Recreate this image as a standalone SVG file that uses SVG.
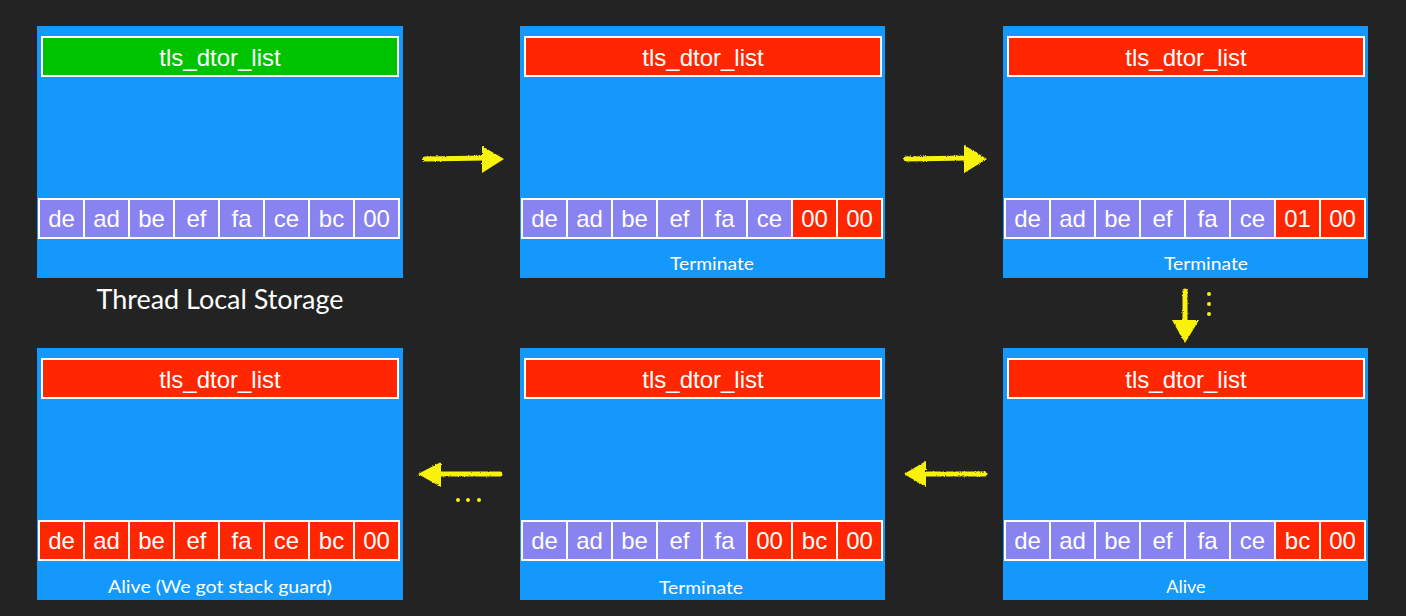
<svg xmlns="http://www.w3.org/2000/svg" width="1406" height="616" viewBox="0 0 1406 616">
<defs>
<style>
.panel{fill:#1598FC}
.title{stroke:#fff;stroke-width:2}
.green{fill:#00C300}
.red{fill:#FF2600}
.pur{fill:#8883F0}
.cell{stroke:#fff;stroke-width:2}
.ct{font-family:"Liberation Sans",Arial,sans-serif;font-size:24px;fill:#fff;text-anchor:middle}
.lbl{font-family:Lato,"Noto Sans",sans-serif;font-size:18px;fill:#fff;text-anchor:middle}
.cap{font-family:Lato,"Noto Sans",sans-serif;font-size:26px;fill:#fff;text-anchor:middle}
.arr{stroke:#F8F20A;stroke-width:5;fill:none;stroke-linecap:round}
.ah{fill:#F8F20A}
.dot{fill:#F8F20A}
</style>
<filter id="chalk" x="-10%" y="-30%" width="120%" height="160%">
<feTurbulence type="fractalNoise" baseFrequency="0.9" numOctaves="2" seed="3" result="n"/>
<feDisplacementMap in="SourceGraphic" in2="n" scale="2.5" xChannelSelector="R" yChannelSelector="G"/>
</filter>
</defs>
<rect width="1406" height="616" fill="#232323"/>

<g id="tls1">
<rect class="panel" x="37" y="26" width="366" height="252"/>
<rect class="title green" x="42" y="37" width="356" height="39"/>
<text class="ct" x="220" y="66">tls_dtor_list</text>
<g>
<rect class="cell pur" x="39" y="199" width="45" height="39"/>
<rect class="cell pur" x="84" y="199" width="45" height="39"/>
<rect class="cell pur" x="129" y="199" width="45" height="39"/>
<rect class="cell pur" x="174" y="199" width="45" height="39"/>
<rect class="cell pur" x="219" y="199" width="45" height="39"/>
<rect class="cell pur" x="264" y="199" width="45" height="39"/>
<rect class="cell pur" x="309" y="199" width="45" height="39"/>
<rect class="cell pur" x="354" y="199" width="45" height="39"/>
</g>
<g class="ct">
<text x="61.5" y="227">de</text><text x="106.5" y="227">ad</text><text x="151.5" y="227">be</text><text x="196.5" y="227">ef</text><text x="241.5" y="227">fa</text><text x="286.5" y="227">ce</text><text x="331.5" y="227">bc</text><text x="376.5" y="227">00</text>
</g>
<text class="cap" x="220" y="309" textLength="247" lengthAdjust="spacingAndGlyphs">Thread Local Storage</text>
</g>

<g id="tls2">
<rect class="panel" x="520" y="26" width="365" height="252"/>
<rect class="title red" x="525" y="37" width="356" height="39"/>
<text class="ct" x="703" y="66">tls_dtor_list</text>
<g>
<rect class="cell pur" x="522" y="199" width="45" height="39"/>
<rect class="cell pur" x="567" y="199" width="45" height="39"/>
<rect class="cell pur" x="612" y="199" width="45" height="39"/>
<rect class="cell pur" x="657" y="199" width="45" height="39"/>
<rect class="cell pur" x="702" y="199" width="45" height="39"/>
<rect class="cell pur" x="747" y="199" width="45" height="39"/>
<rect class="cell red" x="792" y="199" width="45" height="39"/>
<rect class="cell red" x="837" y="199" width="45" height="39"/>
</g>
<g class="ct">
<text x="544.5" y="227">de</text><text x="589.5" y="227">ad</text><text x="634.5" y="227">be</text><text x="679.5" y="227">ef</text><text x="724.5" y="227">fa</text><text x="769.5" y="227">ce</text><text x="814.5" y="227">00</text><text x="859.5" y="227">00</text>
</g>
<text class="lbl" x="712" y="270" textLength="84" lengthAdjust="spacingAndGlyphs">Terminate</text>
</g>

<g id="tls3">
<rect class="panel" x="1003" y="26" width="365" height="252"/>
<rect class="title red" x="1008" y="37" width="356" height="39"/>
<text class="ct" x="1186" y="66">tls_dtor_list</text>
<g>
<rect class="cell pur" x="1005" y="199" width="45" height="39"/>
<rect class="cell pur" x="1050" y="199" width="45" height="39"/>
<rect class="cell pur" x="1095" y="199" width="45" height="39"/>
<rect class="cell pur" x="1140" y="199" width="45" height="39"/>
<rect class="cell pur" x="1185" y="199" width="45" height="39"/>
<rect class="cell pur" x="1230" y="199" width="45" height="39"/>
<rect class="cell red" x="1275" y="199" width="45" height="39"/>
<rect class="cell red" x="1320" y="199" width="45" height="39"/>
</g>
<g class="ct">
<text x="1027.5" y="227">de</text><text x="1072.5" y="227">ad</text><text x="1117.5" y="227">be</text><text x="1162.5" y="227">ef</text><text x="1207.5" y="227">fa</text><text x="1252.5" y="227">ce</text><text x="1297.5" y="227">01</text><text x="1342.5" y="227">00</text>
</g>
<text class="lbl" x="1206" y="270" textLength="84" lengthAdjust="spacingAndGlyphs">Terminate</text>
</g>

<g id="tls4">
<rect class="panel" x="1003" y="348" width="365" height="252"/>
<rect class="title red" x="1008" y="359" width="356" height="39"/>
<text class="ct" x="1186" y="388">tls_dtor_list</text>
<g>
<rect class="cell pur" x="1005" y="521" width="45" height="39"/>
<rect class="cell pur" x="1050" y="521" width="45" height="39"/>
<rect class="cell pur" x="1095" y="521" width="45" height="39"/>
<rect class="cell pur" x="1140" y="521" width="45" height="39"/>
<rect class="cell pur" x="1185" y="521" width="45" height="39"/>
<rect class="cell pur" x="1230" y="521" width="45" height="39"/>
<rect class="cell red" x="1275" y="521" width="45" height="39"/>
<rect class="cell red" x="1320" y="521" width="45" height="39"/>
</g>
<g class="ct">
<text x="1027.5" y="549">de</text><text x="1072.5" y="549">ad</text><text x="1117.5" y="549">be</text><text x="1162.5" y="549">ef</text><text x="1207.5" y="549">fa</text><text x="1252.5" y="549">ce</text><text x="1297.5" y="549">bc</text><text x="1342.5" y="549">00</text>
</g>
<text class="lbl" x="1186" y="593">Alive</text>
</g>

<g id="tls5">
<rect class="panel" x="520" y="348" width="365" height="252"/>
<rect class="title red" x="525" y="359" width="356" height="39"/>
<text class="ct" x="703" y="388">tls_dtor_list</text>
<g>
<rect class="cell pur" x="522" y="521" width="45" height="39"/>
<rect class="cell pur" x="567" y="521" width="45" height="39"/>
<rect class="cell pur" x="612" y="521" width="45" height="39"/>
<rect class="cell pur" x="657" y="521" width="45" height="39"/>
<rect class="cell pur" x="702" y="521" width="45" height="39"/>
<rect class="cell red" x="747" y="521" width="45" height="39"/>
<rect class="cell red" x="792" y="521" width="45" height="39"/>
<rect class="cell red" x="837" y="521" width="45" height="39"/>
</g>
<g class="ct">
<text x="544.5" y="549">de</text><text x="589.5" y="549">ad</text><text x="634.5" y="549">be</text><text x="679.5" y="549">ef</text><text x="724.5" y="549">fa</text><text x="769.5" y="549">00</text><text x="814.5" y="549">bc</text><text x="859.5" y="549">00</text>
</g>
<text class="lbl" x="701" y="594" textLength="84" lengthAdjust="spacingAndGlyphs">Terminate</text>
</g>

<g id="tls6">
<rect class="panel" x="37" y="348" width="366" height="252"/>
<rect class="title red" x="42" y="359" width="356" height="39"/>
<text class="ct" x="220" y="388">tls_dtor_list</text>
<g>
<rect class="cell red" x="39" y="521" width="45" height="39"/>
<rect class="cell red" x="84" y="521" width="45" height="39"/>
<rect class="cell red" x="129" y="521" width="45" height="39"/>
<rect class="cell red" x="174" y="521" width="45" height="39"/>
<rect class="cell red" x="219" y="521" width="45" height="39"/>
<rect class="cell red" x="264" y="521" width="45" height="39"/>
<rect class="cell red" x="309" y="521" width="45" height="39"/>
<rect class="cell red" x="354" y="521" width="45" height="39"/>
</g>
<g class="ct">
<text x="61.5" y="549">de</text><text x="106.5" y="549">ad</text><text x="151.5" y="549">be</text><text x="196.5" y="549">ef</text><text x="241.5" y="549">fa</text><text x="286.5" y="549">ce</text><text x="331.5" y="549">bc</text><text x="376.5" y="549">00</text>
</g>
<text class="lbl" x="220" y="593" textLength="224" lengthAdjust="spacingAndGlyphs">Alive (We got stack guard)</text>
</g>

<g id="connectors" filter="url(#chalk)">
<path class="arr" d="M425 159 L486 158"/>
<path class="ah" d="M482 146 L504 159 L482 173 Z"/>
<path class="arr" d="M906 159 L968 158"/>
<path class="ah" d="M964 145 L987 159 L964 173 Z"/>
<path class="arr" d="M1185 291 L1185 323"/>
<path class="ah" d="M1172 320 L1199 320 L1185 343 Z"/>
<path class="arr" d="M500 474 L437 474"/>
<path class="ah" d="M441 462 L418 474 L441 487 Z"/>
<path class="arr" d="M985 474 L922 474"/>
<path class="ah" d="M926 461 L904 474 L926 487 Z"/>
</g>
<g id="dots">
<circle class="dot" cx="1209" cy="294" r="2"/>
<circle class="dot" cx="1209" cy="304" r="2"/>
<circle class="dot" cx="1209" cy="314" r="2"/>
<circle class="dot" cx="458" cy="500" r="2"/>
<circle class="dot" cx="468" cy="500" r="2"/>
<circle class="dot" cx="479" cy="500" r="2"/>
</g>
</svg>
